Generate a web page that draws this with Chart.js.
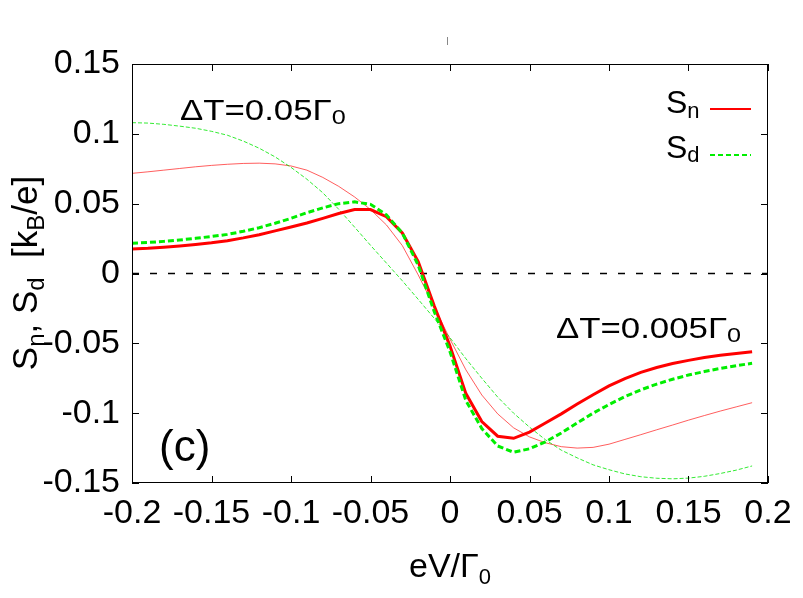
<!DOCTYPE html>
<html><head><meta charset="utf-8">
<script src="https://cdn.jsdelivr.net/npm/chart.js@4.4.0/dist/chart.umd.min.js"></script>
<style>html,body{margin:0;padding:0;background:#fff}#wrap{width:803px;height:598px}</style>
</head><body><div id="wrap"><canvas id="c" width="803" height="598"></canvas></div>
<script>
// eV/Gamma0 sample points
const voltages = [-0.20,-0.19,-0.18,-0.17,-0.16,-0.15,-0.14,-0.13,-0.12,-0.11,
                  -0.10,-0.09,-0.08,-0.07,-0.06,-0.05,-0.04,-0.03,-0.02,-0.01,
                   0.00, 0.01, 0.02, 0.03, 0.04, 0.05, 0.06, 0.07, 0.08, 0.09,
                   0.10, 0.11, 0.12, 0.13, 0.14, 0.15, 0.16, 0.17, 0.18, 0.19];
// ΔT = 0.005 Γ0 (thick)
const snSmall = [0.0175,0.0180,0.0188,0.0197,0.0208,0.0220,0.0235,0.0255,0.0278,0.0305,
                 0.0333,0.0362,0.0395,0.0430,0.0458,0.0458,0.0407,0.0290,0.0085,-0.0230,
                 -0.0520,-0.0860,-0.1060,-0.1165,-0.1180,-0.1135,-0.1070,-0.1005,-0.0935,-0.0868,
                 -0.0805,-0.0752,-0.0708,-0.0673,-0.0645,-0.0622,-0.0602,-0.0586,-0.0572,-0.0560];
const sdSmall = [0.0216,0.0222,0.0230,0.0240,0.0252,0.0265,0.0280,0.0302,0.0328,0.0360,
                 0.0395,0.0435,0.0470,0.0500,0.0513,0.0495,0.0420,0.0290,0.0060,-0.0270,
                 -0.0560,-0.0910,-0.1110,-0.1235,-0.1280,-0.1255,-0.1205,-0.1142,-0.1070,-0.1000,
                 -0.0938,-0.0882,-0.0833,-0.0792,-0.0757,-0.0727,-0.0702,-0.0680,-0.0660,-0.0643];
// ΔT = 0.05 Γ0 (thin)
const snLarge = [0.0717,0.0728,0.0740,0.0752,0.0764,0.0774,0.0782,0.0788,0.0790,0.0785,
                 0.0770,0.0740,0.0688,0.0624,0.0548,0.0458,0.0348,0.0200,-0.0010,-0.0238,
                 -0.0470,-0.0690,-0.0870,-0.1005,-0.1105,-0.1170,-0.1212,-0.1240,-0.1250,-0.1245,
                 -0.1222,-0.1188,-0.1154,-0.1119,-0.1085,-0.1050,-0.1017,-0.0985,-0.0955,-0.0925];
const sdLarge = [0.1080,0.1077,0.1068,0.1055,0.1040,0.1018,0.0990,0.0948,0.0897,0.0835,
                 0.0760,0.0675,0.0578,0.0460,0.0332,0.0202,0.0075,-0.0052,-0.0185,-0.0320,
                 -0.0460,-0.0610,-0.0750,-0.0885,-0.1000,-0.1100,-0.1190,-0.1265,-0.1320,-0.1370,
                 -0.1405,-0.1435,-0.1455,-0.1466,-0.1470,-0.1465,-0.1452,-0.1432,-0.1408,-0.1378];
const zeroLineX = [-0.2, 0.2];
const zeroLineY = [0, 0];
const xTicks = [-0.2,-0.15,-0.1,-0.05,0,0.05,0.1,0.15,0.2];
const yTicks = [-0.15,-0.1,-0.05,0,0.05,0.1,0.15];

const pts = (xs, ys) => xs.map((x, i) => ({x: x, y: ys[i]}));
const fmt = v => (Math.round(v * 100) / 100).toString();
const FONT = 'Liberation Sans';

function rich(ctx, parts, x, y, measureOnly) {
  let cx = x;
  for (const p of parts) {
    ctx.font = p.size + 'px "' + FONT + '"';
    if (!measureOnly) ctx.fillText(p.t, cx, y + (p.dy || 0));
    cx += ctx.measureText(p.t).width;
  }
  return cx - x;
}

const decor = {
  id: 'decor',
  afterDraw(chart) {
    const ctx = chart.ctx, a = chart.chartArea;
    const xs = chart.scales.x, ys = chart.scales.y;
    ctx.save();
    // frame
    ctx.strokeStyle = '#000'; ctx.lineWidth = 1; ctx.setLineDash([]);
    ctx.strokeRect(a.left + 0.5, a.top + 0.5, a.right - a.left - 1, a.bottom - a.top - 1);
    // inward ticks on all sides
    ctx.beginPath();
    for (const v of xTicks) {
      const px = Math.round(xs.getPixelForValue(v)) + 0.5;
      ctx.moveTo(px, a.bottom); ctx.lineTo(px, a.bottom - 7);
      ctx.moveTo(px, a.top); ctx.lineTo(px, a.top + 7);
    }
    for (const v of yTicks) {
      const py = Math.round(ys.getPixelForValue(v)) + 0.5;
      ctx.moveTo(a.left, py); ctx.lineTo(a.left + 7, py);
      ctx.moveTo(a.right, py); ctx.lineTo(a.right - 7, py);
    }
    ctx.stroke();
    // small mark at top
    ctx.strokeStyle = '#888';
    ctx.beginPath(); ctx.moveTo(447.5, 37); ctx.lineTo(447.5, 45); ctx.stroke();

    ctx.fillStyle = '#000';
    ctx.textBaseline = 'alphabetic';
    ctx.textAlign = 'left';
    // x title
    rich(ctx, [{t: 'eV/Γ', size: 34}, {t: '0', size: 22, dy: 7}], 409, 577);
    // y title (rotated)
    const yParts = [{t: 'S', size: 35}, {t: 'n', size: 24, dy: 7}, {t: ', S', size: 35},
                    {t: 'd', size: 24, dy: 7}, {t: '  [k', size: 35}, {t: 'B', size: 24, dy: 7},
                    {t: '/e]', size: 35}];
    ctx.save();
    ctx.translate(37, 273);
    ctx.rotate(-Math.PI / 2);
    const w = rich(ctx, yParts, 0, 0, true);
    rich(ctx, yParts, -w / 2, 0);
    ctx.restore();
    // annotations
    ctx.save(); ctx.translate(180, 120); ctx.scale(1.2, 1);
    rich(ctx, [{t: 'ΔT=0.05Γ', size: 29}, {t: '0', size: 21, dy: 4}], 0, 0);
    ctx.restore();
    ctx.save(); ctx.translate(556, 338); ctx.scale(1.2, 1);
    rich(ctx, [{t: 'ΔT=0.005Γ', size: 29}, {t: '0', size: 21, dy: 4}], 0, 0);
    ctx.restore();
    rich(ctx, [{t: '(c)', size: 44}], 159, 461);
    // legend
    rich(ctx, [{t: 'S', size: 32}, {t: 'n', size: 22, dy: 5}], 666, 113);
    rich(ctx, [{t: 'S', size: 32}, {t: 'd', size: 22, dy: 4}], 666, 158);
    ctx.lineWidth = 2;
    ctx.strokeStyle = '#ff0000'; ctx.setLineDash([]);
    ctx.beginPath(); ctx.moveTo(710, 109); ctx.lineTo(751, 109); ctx.stroke();
    ctx.strokeStyle = '#00ee00'; ctx.setLineDash([5, 3]);
    ctx.beginPath(); ctx.moveTo(710, 155); ctx.lineTo(751, 155); ctx.stroke();
    ctx.restore();
  }
};

new Chart(document.getElementById('c'), {
  type: 'line',
  data: {
    datasets: [
      {label: 'Sd 0.005', data: pts(voltages, sdSmall), borderColor: '#00ee00', borderWidth: 3, borderDash: [6, 3]},
      {label: 'Sn 0.005', data: pts(voltages, snSmall), borderColor: '#ff0000', borderWidth: 3},
      {label: 'Sd 0.05', data: pts(voltages, sdLarge), borderColor: 'rgba(0,230,0,0.8)', borderWidth: 1, borderDash: [4, 2]},
      {label: 'Sn 0.05', data: pts(voltages, snLarge), borderColor: 'rgba(255,40,40,0.75)', borderWidth: 1},
      {label: 'zero', data: pts(zeroLineX, zeroLineY), borderColor: '#000', borderWidth: 1.3, borderDash: [7, 11]}
    ]
  },
  options: {
    responsive: false,
    animation: false,
    devicePixelRatio: 1,
    elements: {point: {radius: 0}, line: {tension: 0, fill: false}},
    layout: {padding: {top: 64, right: 35, left: 0, bottom: 0}},
    plugins: {legend: {display: false}, tooltip: {enabled: false}},
    scales: {
      x: {
        type: 'linear', min: -0.2, max: 0.2,
        afterBuildTicks: s => { s.ticks = xTicks.map(v => ({value: v})); },
        afterFit: s => { s.height = 115; },
        ticks: {font: {family: FONT, size: 34}, color: '#000', padding: 10, maxRotation: 0, autoSkip: false, callback: v => fmt(v)},
        grid: {display: false, drawTicks: false},
        border: {display: false}
      },
      y: {
        type: 'linear', min: -0.15, max: 0.15,
        afterBuildTicks: s => { s.ticks = yTicks.map(v => ({value: v})); },
        afterFit: s => { s.width = 132; },
        ticks: {font: {family: FONT, size: 34}, color: '#000', padding: 12, autoSkip: false, callback: v => fmt(v)},
        grid: {display: false, drawTicks: false},
        border: {display: false}
      }
    }
  },
  plugins: [decor]
});
</script>
</body></html>
